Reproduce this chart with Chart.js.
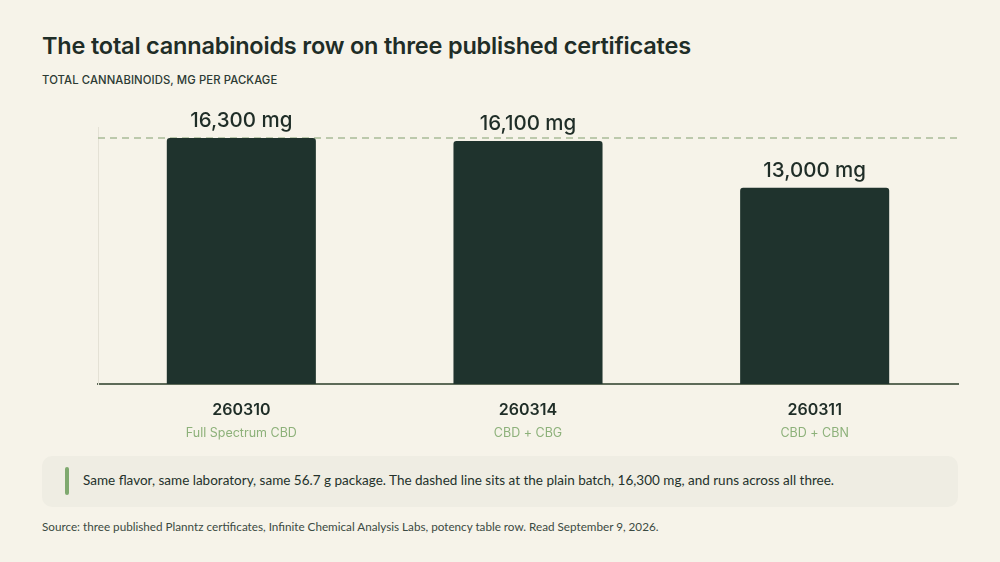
<!DOCTYPE html>
<html>
<head>
<meta charset="utf-8">
<script src="https://cdn.jsdelivr.net/npm/chart.js@4"></script>
<style>
  html, body { margin: 0; padding: 0; }
  body {
    width: 1000px; height: 562px; overflow: hidden; position: relative;
    background: #f6f3e9; font-family: Inter, "Noto Sans", sans-serif; color: #1f2d27;
  }
  .title { position: absolute; left: 42px; top: 31px; font-size: 23.5px; font-weight: 600; letter-spacing: -0.2px; }
  .sub { position: absolute; left: 42px; top: 73px; font-size: 11.3px; font-weight: 500; color: #2c3a33; letter-spacing: 0.1px; }
  .chartbox { position: absolute; left: 0; top: 100px; width: 1000px; height: 340px; }
  .note {
    position: absolute; left: 42px; top: 456px; width: 916px; height: 51px; box-sizing: border-box;
    background: #efede3; border-radius: 10px;
  }
  .note .bar { position: absolute; left: 23px; top: 11px; width: 4px; height: 28px; background: #7fa96f; border-radius: 2px; }
  .note .txt { position: absolute; left: 41px; top: 16px; font-family: Lato, sans-serif; font-size: 13.5px; color: #24322b; }
  .source { position: absolute; left: 42px; top: 519px; font-family: Lato, sans-serif; font-size: 11.7px; color: #3b4a42; }
</style>
</head>
<body>
<div class="title">The total cannabinoids row on three published certificates</div>
<div class="sub">TOTAL CANNABINOIDS, MG PER PACKAGE</div>
<div class="chartbox"><canvas id="chart"></canvas></div>
<div class="note"><div class="bar"></div><div class="txt">Same flavor, same laboratory, same 56.7 g package. The dashed line sits at the plain batch, 16,300 mg, and runs across all three.</div></div>
<div class="source">Source: three published Planntz certificates, Infinite Chemical Analysis Labs, potency table row. Read September 9, 2026.</div>
<script>
// batches and their values
const batches = ["260310", "260314", "260311"]
const products = ["Full Spectrum CBD", "CBD + CBG", "CBD + CBN"]
const totals = [16300, 16100, 13000]
const referenceValue = 16300
const yMax = 17000

const labelsPlugin = {
  id: "labels",
  beforeDatasetsDraw(chart) {
    const { ctx, chartArea, scales } = chart
    const y = scales.y.getPixelForValue(referenceValue)
    ctx.save()
    ctx.strokeStyle = "#a9bc98"
    ctx.lineWidth = 1.5
    ctx.setLineDash([7, 5])
    ctx.beginPath()
    ctx.moveTo(chartArea.left, y)
    ctx.lineTo(chartArea.right, y)
    ctx.stroke()
    ctx.restore()
  },
  afterDatasetsDraw(chart) {
    const { ctx, scales } = chart
    const meta = chart.getDatasetMeta(0)
    ctx.save()
    ctx.textAlign = "center"
    meta.data.forEach((bar, i) => {
      ctx.fillStyle = "#1f2d27"
      ctx.textBaseline = "bottom"
      ctx.font = "500 20.5px Inter"
      ctx.fillText(totals[i].toLocaleString("en-US") + " mg", bar.x, bar.y - 7)
      const base = scales.y.getPixelForValue(0)
      ctx.textBaseline = "middle"
      ctx.font = "600 16px Inter"
      ctx.fillText(batches[i], bar.x, base + 26)
      ctx.fillStyle = "#8db17a"
      ctx.font = "400 12.5px Inter"
      ctx.fillText(products[i], bar.x, base + 49)
    })
    ctx.restore()
  }
}

new Chart(document.getElementById("chart"), {
  type: "bar",
  data: {
    labels: batches,
    datasets: [{
      data: totals,
      backgroundColor: "#1f332d",
      borderRadius: 3,
      borderSkipped: "bottom",
      categoryPercentage: 1,
      barPercentage: 0.52
    }]
  },
  options: {
    responsive: true,
    maintainAspectRatio: false,
    animation: false,
    layout: { padding: { left: 90, right: 42, top: 27.5, bottom: 48 } },
    plugins: { legend: { display: false }, tooltip: { enabled: false } },
    scales: {
      x: {
        grid: { display: false },
        ticks: { display: false },
        border: { color: "#5d6a58", width: 2 }
      },
      y: {
        min: 0, max: yMax,
        grid: { display: false },
        ticks: { display: false },
        border: { color: "#e4e1d5", width: 1 }
      }
    }
  },
  plugins: [labelsPlugin]
})
</script>
</body>
</html>
